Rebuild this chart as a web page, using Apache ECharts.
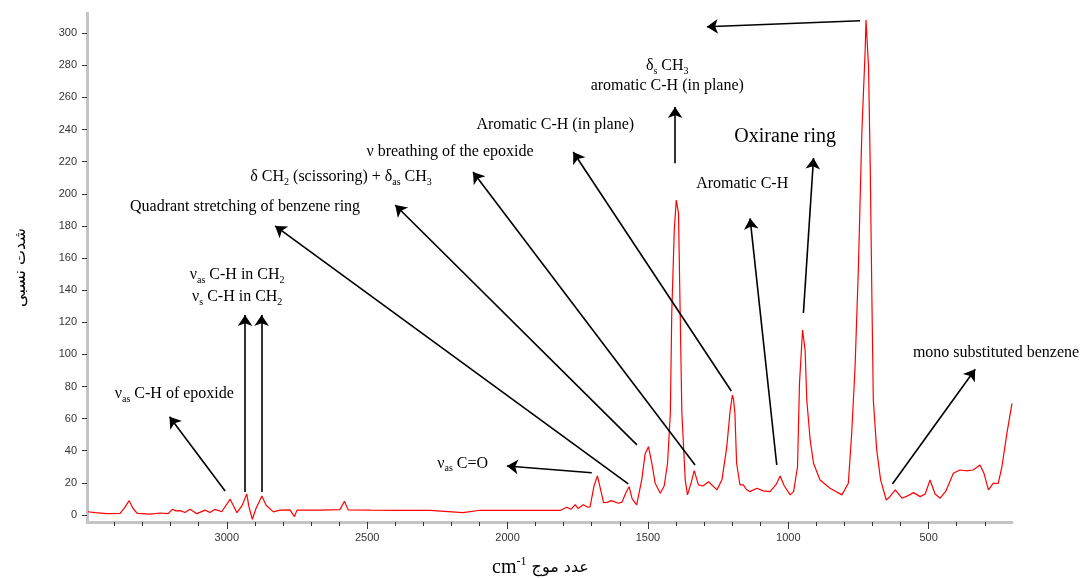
<!DOCTYPE html>
<html><head><meta charset="utf-8">
<script src="https://cdn.jsdelivr.net/npm/echarts@6/dist/echarts.min.js"></script>
<style>html,body{margin:0;padding:0;background:#fff}#c{width:1091px;height:579px}</style>
</head><body><div id="c"></div>
<script>
// Raman spectrum: wavenumber (cm-1) and relative intensity
const wavenumbers = [3495,3469,3427,3380,3362,3348,3334,3319,3273,3238,3209,3194,3181,3166,3149,3131,3107,3077,3060,3042,3018,2988,2964,2945,2929,2921,2909,2896,2875,2860,2834,2810,2775,2759,2750,2668,2597,2581,2568,2489,2383,2276,2159,2098,1955,1813,1789,1774,1759,1749,1730,1714,1706,1692,1680,1670,1658,1645,1631,1605,1592,1578,1567,1556,1540,1522,1510,1498,1486,1474,1456,1442,1430,1420,1415,1406,1399,1394,1391,1385,1379,1367,1359,1346,1335,1320,1304,1284,1254,1236,1219,1207,1199,1195,1190,1184,1172,1160,1150,1136,1112,1090,1065,1043,1029,1014,993,981,967,960,949,940,934,922,910,887,851,809,786,774,762,750,738,726,723,714,708,702,697,685,671,651,640,619,595,573,554,530,512,495,477,459,438,412,389,367,341,317,303,287,270,252,239,221,203];
const intensity = [2,1.4,0.8,1.0,5,8.9,4,1.0,0.5,1.2,0.8,3.5,2.5,2.7,1.5,3.5,0.8,3,1.5,3.5,2,9.8,1.4,6,13.1,5,-2.7,4,11.8,6,1.9,3.0,3.1,-1,3,3,3.3,8.5,3.2,3,2.8,2.9,1.4,2.9,2.8,2.8,4.8,3.5,6.4,4,6.4,4.8,5,18,24.3,17,7.7,7.8,8.9,7.3,8,14,17.6,10,6.2,21.8,38,42.5,32.2,19.7,13.5,18,32.2,63.3,125.6,177.5,196,197,188,125.6,63.5,21.8,12.5,20,27.6,18.7,18,20.7,15.6,22,42.5,65,74.7,72,63.3,32.2,18.7,18.7,16,14.5,16.6,15,14.5,19,24.3,18,12.5,14.5,30,82,115.2,102.7,71.6,46.7,32.2,21.8,16.6,12.5,19.7,50.9,92.3,154.6,237.7,289.5,308.2,279,216.9,133.9,71.6,40.5,21.8,9.3,11,15.6,10.4,12,13.9,11.4,13,21.8,13,10.4,15,26,28,27.5,28,31.1,26,15.6,19.7,19.7,30,50.9,69.5];

const xLabelValues = [3000,2500,2000,1500,1000,500];
const xMinorTicks = [300,400,500,600,700,800,900,1000,1100,1200,1300,1400,1500,1600,1700,1800,1900,2000,2100,2200,2300,2400,2500,2600,2700,2800,2900,3000,3100,3200,3300,3400];
const yLabelValues = [0,20,40,60,80,100,120,140,160,180,200,220,240,260,280,300];

// annotation arrows: [from wavenumber, from intensity, to wavenumber, to intensity]
const arrowFrom = [[3006,14.9],[2935,14.3],[2876,14.3],[1570,19.3],[1539,43.6],[1332,31.1],[1203,77.2],[1403,219],[1041,31.1],[946,125.8],[744,307.8],[629,19.3],[1700,26.3]];
const arrowTo   = [[3204,61.2],[2935,124.5],[2876,124.5],[2828,180],[2400,193],[2123,213.6],[1766,226],[1403,254],[1136,184.7],[910,222.3],[1290,304],[334,90.7],[2002,30.5]];

// annotation texts: [wavenumber, intensity, rich text]
const noteText = [
  [3187, 75.3, '{t|ν}{s|as}{t| C-H of epoxide}'],
  [2963, 149.4, '{t|ν}{s|as}{t| C-H in CH}{s|2}'],
  [2963, 135.7, '{t|ν}{s|s}{t| C-H in CH}{s|2}'],
  [2935, 191.8, '{t|Quadrant stretching of benzene ring}'],
  [2593, 210.5, '{t|δ CH}{s|2}{t| (scissoring) + δ}{s|as}{t| CH}{s|3}'],
  [2205, 226, '{t|ν breathing of the epoxide}'],
  [1830, 242.8, '{t|Aromatic C-H (in plane)}'],
  [1431, 279.6, '{t|δ}{s|s}{t| CH}{s|3}'],
  [1431, 267.1, '{t|aromatic C-H (in plane)}'],
  [1164, 206.1, '{t|Aromatic C-H}'],
  [1011, 235.4, '{big|Oxirane ring}'],
  [260, 100.9, '{t|mono substituted benzene}'],
  [2160, 31.8, '{t|ν}{s|as}{t| C=O}']
];

const serif = "'Liberation Serif','Times New Roman',serif";
const rich = {
  t: {fontFamily: serif, fontSize: 16, color: '#000', lineHeight: 20},
  s: {fontFamily: serif, fontSize: 10, color: '#000', lineHeight: 10, verticalAlign: 'bottom'},
  big: {fontFamily: serif, fontSize: 20, color: '#000', lineHeight: 24}
};

const chart = echarts.init(document.getElementById('c'), null, {renderer: 'canvas'});
const lineData = wavenumbers.map((w, i) => [w, intensity[i]]);

chart.setOption({
  animation: false,
  backgroundColor: '#fff',
  grid: {left: 87, right: 79, top: 13, bottom: 57, containLabel: false, outerBoundsMode: 'none'},
  xAxis: [{
    type: 'value', inverse: true, min: 203, max: 3498,
    splitLine: {show: false},
    axisLine: {show: true, onZero: false, lineStyle: {color: '#c4c4c4', width: 3}},
    axisTick: {show: true, customValues: xMinorTicks, length: 4, lineStyle: {color: '#333', width: 1}},
    axisLabel: {customValues: xLabelValues, formatter: v => String(v), margin: 10, color: '#333', fontSize: 11, fontFamily: "'Liberation Sans', Arial, sans-serif"},
    name: '{a|cm}{b|-1}{c| عدد موج}',
    nameLocation: 'middle', nameGap: 34,
    nameTextStyle: {
      padding: [0, 18, 0, 0],
      rich: {
        a: {fontFamily: serif, fontSize: 20, color: '#000', lineHeight: 24},
        b: {fontFamily: serif, fontSize: 12, color: '#000', lineHeight: 12, verticalAlign: 'top'},
        c: {fontFamily: "'DejaVu Sans', sans-serif", fontSize: 16, color: '#000', lineHeight: 24}
      }
    }
  }, {
    type: 'value', inverse: true, min: 203, max: 3498, position: 'bottom',
    splitLine: {show: false},
    axisLine: {show: false, onZero: false},
    axisTick: {show: true, customValues: xLabelValues, length: 7, lineStyle: {color: '#333', width: 1}},
    axisLabel: {show: false}
  }],
  yAxis: {
    type: 'value', min: -4.4, max: 312.6,
    splitLine: {show: false},
    axisLine: {show: true, onZero: false, lineStyle: {color: '#c4c4c4', width: 3}},
    axisTick: {show: true, customValues: yLabelValues, length: 5, lineStyle: {color: '#333', width: 1}},
    axisLabel: {customValues: yLabelValues, margin: 10, color: '#333', fontSize: 11, fontFamily: "'Liberation Sans', Arial, sans-serif"},
    name: 'شدت نسبی', nameLocation: 'middle', nameGap: 58,
    nameTextStyle: {fontSize: 16, color: '#000', fontFamily: "'DejaVu Sans', sans-serif"}
  },
  series: [{
    type: 'line',
    data: lineData,
    showSymbol: false,
    symbol: 'none',
    lineStyle: {color: '#ff0000', width: 1.2},
    z: 3,
    markLine: {
      silent: true,
      animation: false,
      symbol: ['none', 'arrow'],
      symbolSize: 11,
      lineStyle: {color: '#000', width: 1.6, type: 'solid'},
      label: {show: false},
      emphasis: {disabled: true},
      data: arrowFrom.map((f, i) => [{coord: f}, {coord: arrowTo[i]}])
    }
  }, {
    type: 'scatter',
    symbolSize: 0,
    silent: true,
    z: 4,
    itemStyle: {opacity: 1},
    data: noteText.map(n => ({value: [n[0], n[1]], label: {formatter: n[2]}})),
    label: {show: true, position: 'inside', align: 'center', verticalAlign: 'middle', color: '#000', rich: rich}
  }]
});
</script>
</body></html>
